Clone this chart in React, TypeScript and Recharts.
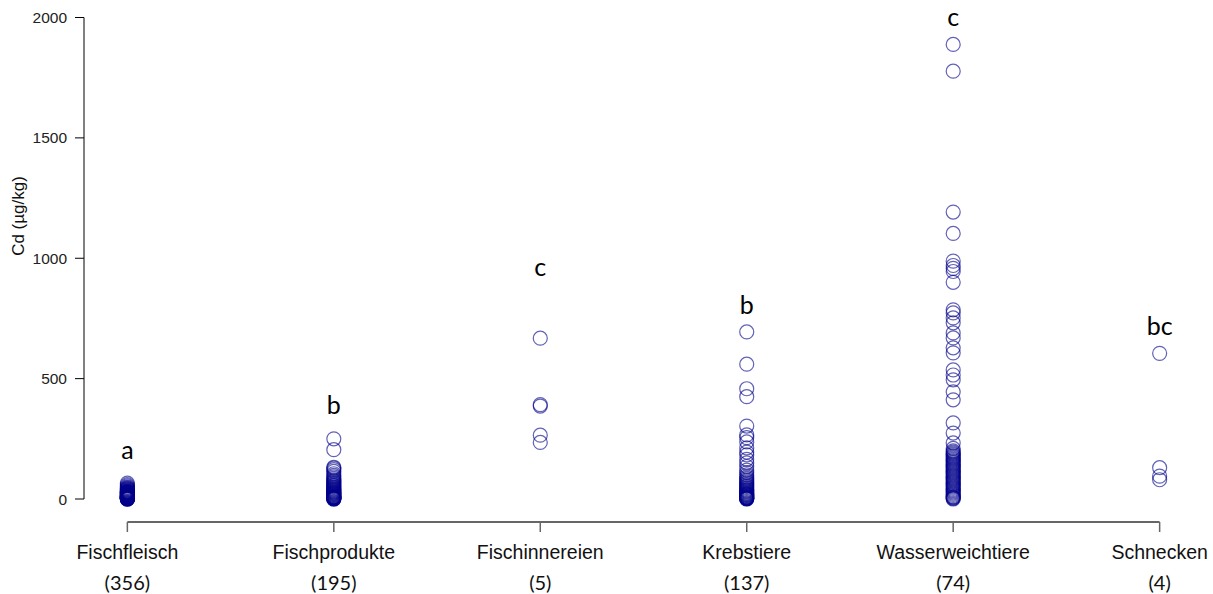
import React from "react";
import { ScatterChart, Scatter, XAxis, YAxis, ReferenceLine } from "recharts";

const categories = ["Fischfleisch", "Fischprodukte", "Fischinnereien", "Krebstiere", "Wasserweichtiere", "Schnecken"];
const counts = ["(356)", "(195)", "(5)", "(137)", "(74)", "(4)"];
const yTicks = [0, 500, 1000, 1500, 2000];

const fischfleisch = [66, 60, 55, 50, 47, 44, 42, 40, 38, 36, 34, 32, 31, 30, 29, 28, 27, 26, 25, 24, 23, 22, 21, 20, 19, 18, 17, 16, 15, 14, 13, 12, 11, 10, 10, 9, 9, 8, 8, 7, 7, 6, 6, 5, 5, 4, 4, 3, 3, 2, 2, 1, 1, 0, 0, 0];
const fischprodukte = [250, 205, 132, 128, 122, 115, 105, 98, 92, 86, 80, 76, 72, 68, 64, 60, 57, 54, 51, 48, 45, 42, 40, 37, 35, 32, 30, 28, 26, 24, 22, 20, 18, 16, 14, 12, 10, 9, 8, 7, 6, 5, 4, 3, 2, 1, 0, 0];
const fischinnereien = [668, 392, 386, 265, 235];
const krebstiere = [694, 560, 458, 425, 303, 266, 255, 237, 212, 195, 183, 165, 150, 135, 120, 110, 100, 92, 86, 80, 75, 70, 65, 60, 56, 52, 48, 44, 40, 37, 34, 31, 28, 25, 22, 20, 18, 16, 14, 12, 10, 8, 6, 5, 4, 3, 2, 1, 0];
const wasserweichtiere = [1888, 1777, 1192, 1103, 988, 970, 958, 945, 900, 786, 773, 752, 732, 690, 669, 628, 607, 536, 515, 495, 445, 412, 316, 274, 233, 210, 200, 195, 190, 185, 180, 175, 170, 165, 160, 155, 150, 145, 140, 135, 130, 125, 120, 115, 110, 105, 100, 95, 90, 85, 80, 75, 70, 65, 60, 55, 50, 45, 40, 35, 30, 25, 20, 15, 10, 8, 5, 3, 0];
const schnecken = [605, 130, 95, 80];

const groupLetters = ["a", "b", "c", "b", "c", "bc"];
const letterValues = [200, 387, 960, 800, 2000, 715];

const series = [fischfleisch, fischprodukte, fischinnereien, krebstiere, wasserweichtiere, schnecken];

const points = series.flatMap((vals, i) => vals.map((v) => ({ x: i, y: v })));
const letterPoints = groupLetters.map((l, i) => ({ x: i, y: letterValues[i], label: l }));

const X_MIN = -0.21;
const X_MAX = 5.21;
const Y_MIN = -95.5;
const Y_MAX = 2072.7;

const CircleShape = (props: any) => {
  const { cx, cy } = props;
  return <circle cx={cx} cy={cy} r={7} fill="none" stroke="#00008B" strokeOpacity={0.62} strokeWidth={1.2} />;
};

const LetterShape = (props: any) => {
  const { cx, cy, payload } = props;
  return (
    <text x={cx} y={cy} dy={8} textAnchor="middle" fontFamily="Lato, 'Open Sans', sans-serif" fontSize={25} fill="#000">
      {payload.label}
    </text>
  );
};

const XTick = (props: any) => {
  const { x, y, payload } = props;
  const i = payload.value as number;
  return (
    <g>
      <text x={x} y={y} dy={25} textAnchor="middle" fontFamily="'Liberation Sans', Arial, sans-serif" fontSize={19.5} fill="#111">
        {categories[i]}
      </text>
      <text x={x} y={y} dy={56} textAnchor="middle" fontFamily="Lato, 'Open Sans', sans-serif" fontSize={20} fill="#111">
        {counts[i]}
      </text>
    </g>
  );
};

const YLabel = () => (
  <text
    transform="translate(18,216) rotate(-90)"
    textAnchor="middle"
    dominantBaseline="central"
    fontFamily="'Liberation Sans', Arial, sans-serif"
    fontSize={17}
    fill="#111"
  >
    Cd (µg/kg)
  </text>
);

export default function App() {
  return (
    <div style={{ position: "absolute", left: 0, top: 0, background: "#fff" }}>
      <ScatterChart width={1213} height={594} margin={{ top: 0, right: 10, bottom: 0, left: 0 }}>
        <XAxis
          type="number"
          dataKey="x"
          domain={[X_MIN, X_MAX]}
          ticks={[0, 1, 2, 3, 4, 5]}
          allowDataOverflow
          axisLine={false}
          tickLine={{ stroke: "#666", strokeWidth: 1.5 }}
          tickSize={10}
          height={72}
          tick={<XTick />}
          interval={0}
        />
        <YAxis
          type="number"
          dataKey="y"
          domain={[Y_MIN, Y_MAX]}
          ticks={yTicks}
          allowDataOverflow
          axisLine={false}
          tickLine={{ stroke: "#000" }}
          tickSize={9}
          tickMargin={8}
          width={84}
          tick={{ fontFamily: "'Liberation Sans', Arial, sans-serif", fontSize: 15.5, fill: "#222" }}
          label={<YLabel />}
        />
        <ReferenceLine
          segment={[{ x: X_MIN, y: 0 }, { x: X_MIN, y: 2000 }]}
          stroke="#000"
          strokeWidth={1}
          ifOverflow="visible"
        />
        <ReferenceLine
          segment={[{ x: 0, y: Y_MIN }, { x: 5, y: Y_MIN }]}
          stroke="#666"
          strokeWidth={2}
          ifOverflow="visible"
        />
        <Scatter data={points} shape={<CircleShape />} isAnimationActive={false} />
        <Scatter data={letterPoints} shape={<LetterShape />} isAnimationActive={false} />
      </ScatterChart>
    </div>
  );
}
